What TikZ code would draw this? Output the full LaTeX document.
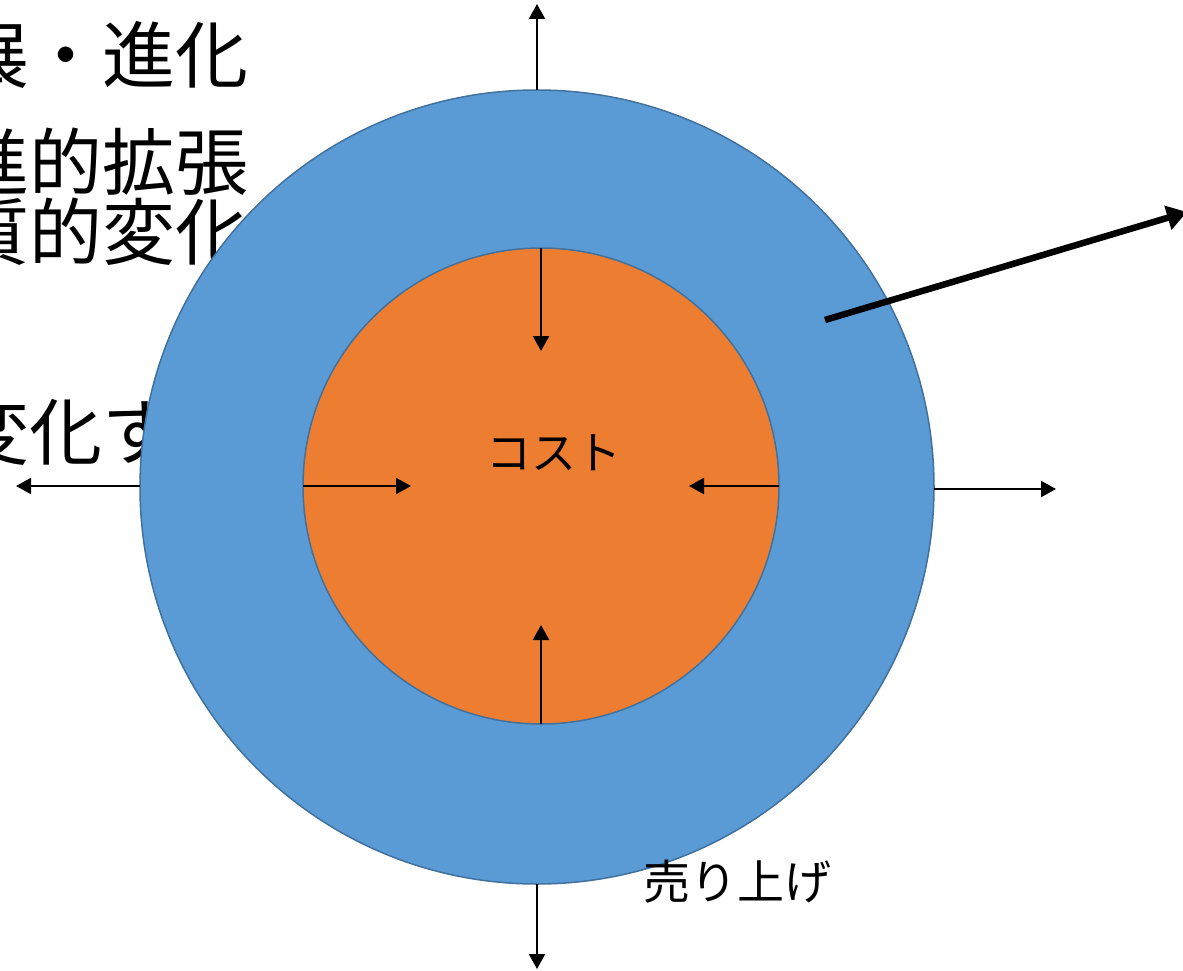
\documentclass[tikz,border=0pt]{standalone}
\usepackage{fontspec}
\newfontfamily\jp{Noto Sans CJK JP}
\usetikzlibrary{arrows.meta}
\definecolor{ringblue}{HTML}{5B9BD5}
\definecolor{coreorange}{HTML}{ED7D31}
\definecolor{edgeblue}{HTML}{41719C}
\tikzset{
  bigtext/.style={anchor=east, inner sep=0pt, font=\jp\fontsize{73}{73}\selectfont},
  disk/.style={circle, draw=edgeblue, line width=1.5pt, inner sep=0pt, outer sep=0pt},
  thinarrow/.style={line width=2.2pt, -{Triangle[length=15pt,width=16pt]}},
  thickarrow/.style={line width=6.5pt, -{Triangle[length=20pt,width=24pt]}},
  lbl/.style={inner sep=0pt, font=\jp\fontsize{45}{45}\selectfont}
}
\begin{document}
\begin{tikzpicture}[x=1pt,y=-1pt]
\useasboundingbox (0,0) rectangle (1183,971);
\clip (0,0) rectangle (1183,971);
% background text (partly hidden)
\node[bigtext] (t1) at (249,55) {発展・進化};
\node[bigtext] (t2) at (249,162) {漸進的拡張};
\node[bigtext] (t3) at (249,232) {本質的変化};
\node[bigtext] (t4) at (249,432) {変化する};
% circles
\node[disk, fill=ringblue, minimum size=794pt] (outer) at (537,487) {};
\node[disk, fill=coreorange, minimum size=476pt] (inner) at (541,486) {};
% outer arrows
\coordinate (otop) at (537,4);
\coordinate (obot) at (537,969);
\coordinate (oright) at (1056,489);
\coordinate (oleft) at (16,486);
\draw[thinarrow] (outer.north) -- (otop);
\draw[thinarrow] (outer.south) -- (obot);
\draw[thinarrow] (outer.east |- oright) -- (oright);
\draw[thinarrow] (outer.west |- oleft) -- (oleft);
% inner arrows
\coordinate (itop) at (541,351);
\coordinate (ibot) at (541,625);
\coordinate (ileft) at (411,486);
\coordinate (iright) at (689,486);
\draw[thinarrow] (inner.north) -- (itop);
\draw[thinarrow] (inner.south) -- (ibot);
\draw[thinarrow] (inner.west) -- (ileft);
\draw[thinarrow] (inner.east) -- (iright);
% thick arrow
\coordinate (ts) at (825,320);
\coordinate (te) at (1187,212);
\draw[thickarrow] (ts) -- (te);
% labels
\node[lbl] (cost) at (554,453) {コスト};
\node[lbl, font=\jp\fontsize{47}{47}\selectfont] (sales) at (737,882) {売り上げ};
\end{tikzpicture}
\end{document}
